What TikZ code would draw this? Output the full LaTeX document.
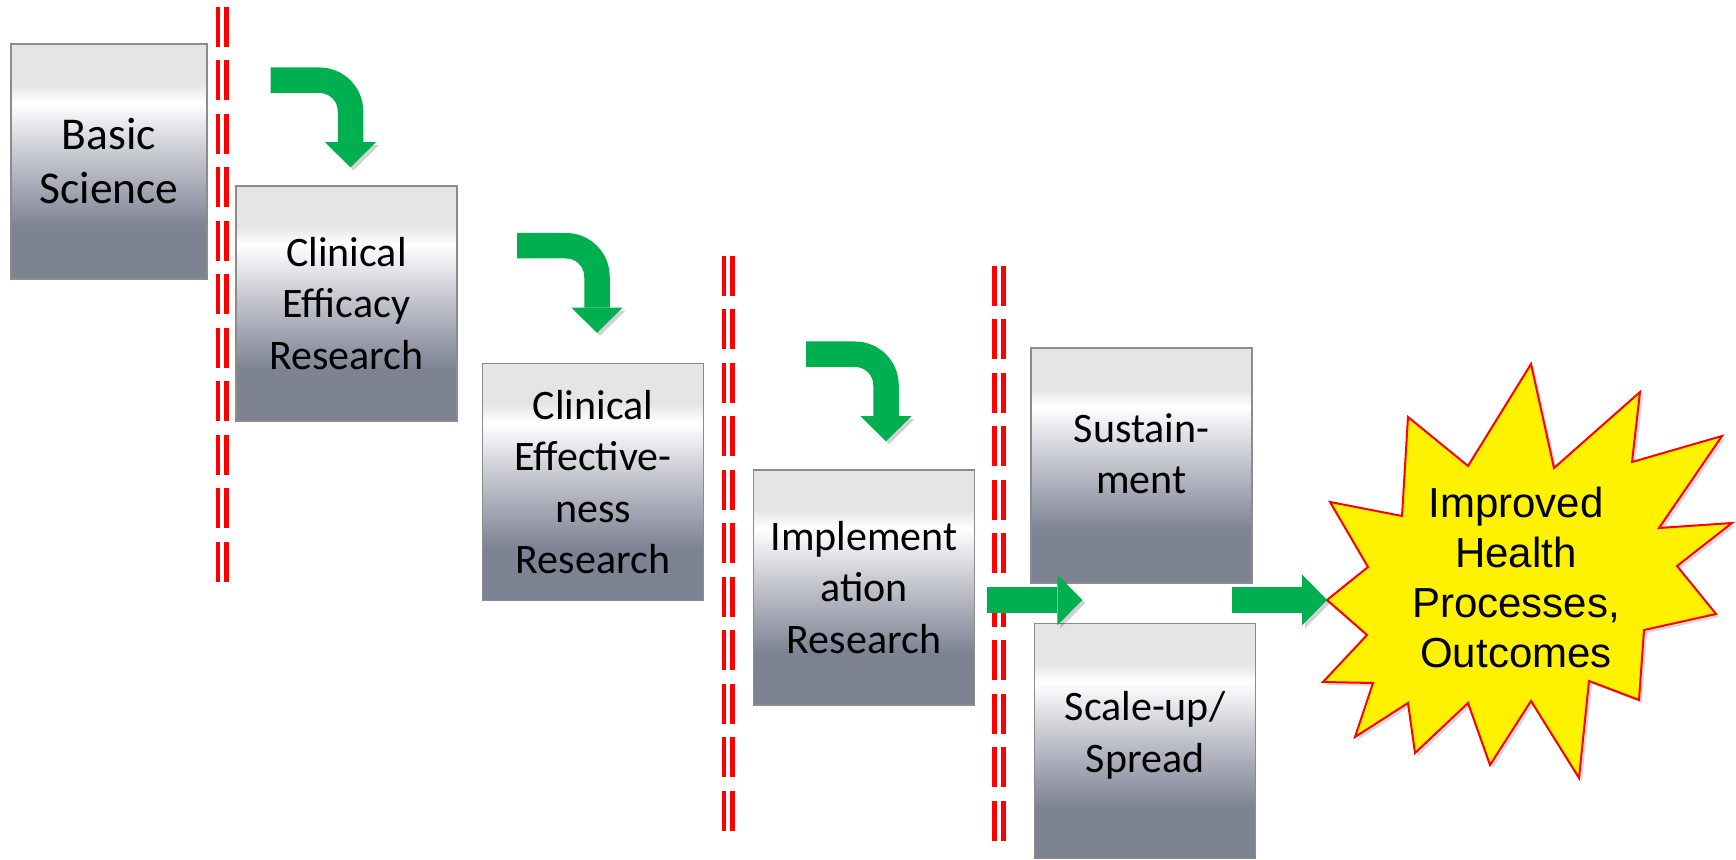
\documentclass[tikz,border=0pt]{standalone}
\usepackage{fontspec}
\setmainfont{Carlito}
\newfontfamily\burstfont{Liberation Sans}
\usepackage{xcolor}
\usepackage{tikz}
\usetikzlibrary{arrows.meta,positioning,calc}

\definecolor{metaldark}{RGB}{126,131,148}
\definecolor{metalmid}{RGB}{191,193,202}
\definecolor{metallight}{RGB}{229,229,229}
\definecolor{boxline}{RGB}{140,140,140}
\definecolor{arrowgreen}{RGB}{0,176,80}
\pgfdeclareverticalshading{metal}{100bp}{color(0bp)=(metaldark); color(36bp)=(metaldark); color(50bp)=(metalmid); color(62.5bp)=(white); color(66.5bp)=(metallight); color(100bp)=(metallight)}

\begin{document}
\begin{tikzpicture}[x=0.5pt, y=-0.5pt,
		stage/.style = {draw=boxline, line width=0.75pt, shade, shading=metal, align=center,
			minimum width=110.5pt, minimum height=117.5pt, inner sep=2pt,
			font=\fontsize{21}{25.75}\selectfont},
		flow/.style = {draw=arrowgreen, line width=12.75pt,
			-{Triangle[length=12.5pt,width=25.5pt,line width=0pt]},
			preaction={draw=black, opacity=.18, transform canvas={xshift=1.5pt,yshift=-1.5pt}}},
		turn/.style = {flow, rounded corners=15.5pt},
		divider/.style = {draw=red, line width=2.35pt, dash pattern=on 20pt off 6.75pt}
		]
		\useasboundingbox (0,0) rectangle (1736,860);
		
		%stage boxes
		\node (basic) [stage, minimum width=98pt, font=\fontsize{22.75}{27}\selectfont] at (109,161.5) {Basic\\Science};
		\node (efficacy) [stage] at (346.5,303.5) {Clinical\\Efficacy\\Research};
		\node (effect) [stage, minimum height=118.5pt] at (593,482) {Clinical\\Effective-\\ness\\Research};
		\node (implement) [stage] at (864,587.5) {Implement\\ation\\Research};
		\node (sustain) [stage, text depth=12pt] at (1141.5,465.5) {Sustain-\\ment};
		\node (scaleup) [stage, text depth=9pt, below=19.5pt of sustain, xshift=1.75pt] {Scale-up/\\Spread};
		
		%red double dividers
		\foreach \x/\top in {218/7, 724/256, 994.5/266}
		\foreach \dx in {0,8.75}
		\draw[divider] (\x+\dx,\top) -- ++(0,575);
		
		%bent arrows down to the next stage
		\foreach \target/\dx/\dy in {efficacy/4/18, effect/4/30, implement/22/28}
		\draw[turn] ($(\target.north)+(\dx-80,-\dy-87)$) -| ($(\target.north)+(\dx,-\dy)$);
		
		%outcome burst
		\path[draw=red, line width=1pt, fill=yellow,
			preaction={fill=black, opacity=.15, transform canvas={xshift=1.5pt,yshift=-1.5pt}}]
		(1531,364) -- (1554,468) -- (1640,392) -- (1632,462) -- (1722,436) -- (1659,528)
		-- (1732,523) -- (1677,566) -- (1716,614) -- (1644,630) -- (1639,700) -- (1589,681)
		-- (1579,778) -- (1531,701) -- (1490,765) -- (1468,703) -- (1415,753) -- (1408,703)
		-- (1355,737) -- (1373,683) -- (1323,682) -- (1367,635) -- (1327,600) -- (1368,567)
		-- (1330,502) -- (1402,516) -- (1408,417) -- (1468,466) -- cycle;
		\coordinate (burst) at (1327,600);
		\node (outcome) [align=center, font=\burstfont\fontsize{21}{25}\selectfont] at (1516,577)
		{Improved\\Health\\Processes,\\Outcomes};
		
		%straight arrows
		\coordinate (a1) at ($(implement.east)+(12,12.5)$);
		\draw[flow] (a1) -- ++(95,0);
		\draw[flow] ($(burst)+(-95,0)$) -- (burst);
		
		\end{tikzpicture}
\end{document}
